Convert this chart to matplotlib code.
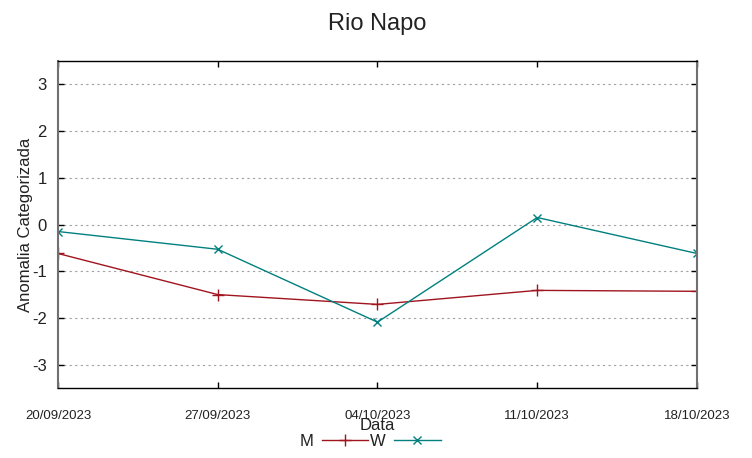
import matplotlib.pyplot as plt

plt.rcParams['font.family'] = ['Liberation Sans', 'DejaVu Sans']

# dados
datas = ['20/09/2023', '27/09/2023', '04/10/2023', '11/10/2023', '18/10/2023']
serie_m = [-0.62, -1.50, -1.71, -1.41, -1.43]
serie_w = [-0.15, -0.53, -2.09, 0.15, -0.62]
yticks = [-3, -2, -1, 0, 1, 2, 3]

fig = plt.figure(figsize=(7.52, 4.58), dpi=100)
ax = fig.add_axes([0.0771, 0.1528, 0.8497, 0.714])

x = list(range(len(datas)))
l1, = ax.plot(x, serie_m, color='#a0141e', lw=1, marker='+', ms=8, mew=1, label='M')
l2, = ax.plot(x, serie_w, color='#00807f', lw=1, marker='x', ms=6, mew=1, label='W')

ax.set_xlim(0, 4)
ax.set_ylim(-3.5, 3.5)
ax.set_xticks(x)
ax.set_xticklabels(datas, fontsize=9.5, color='#222222')
ax.set_yticks(yticks)
ax.set_yticklabels([str(v) for v in yticks], fontsize=12, color='#222222')
ax.tick_params(direction='in', top=True, right=True, length=4, width=1)
ax.tick_params(axis='x', pad=16)
ax.tick_params(axis='y', pad=8)
ax.grid(axis='y', color='#a0a0a0', ls=(0, (2, 3)), lw=0.8)
for s in ax.spines.values():
    s.set_linewidth(1)
ax.spines['left'].set_color('#707070')
ax.spines['right'].set_color('#707070')
ax.spines['left'].set_linewidth(1.5)
ax.spines['right'].set_linewidth(1.5)

ax.set_title('Rio Napo', fontsize=17, pad=22, color='#222222')
ax.set_xlabel('Data', fontsize=12, labelpad=-3, color='#222222')
ax.set_ylabel('Anomalia Categorizada', fontsize=12, labelpad=-1, color='#222222')

leg = fig.legend(handles=[l1, l2], loc='center', bbox_to_anchor=(0.492, 0.036), ncol=2,
                 frameon=False, markerfirst=False, fontsize=12, handlelength=2.8,
                 columnspacing=0.1, handletextpad=0.5)
for t in leg.get_texts():
    t.set_color('#222222')

fig.savefig('out.png', dpi=100)
